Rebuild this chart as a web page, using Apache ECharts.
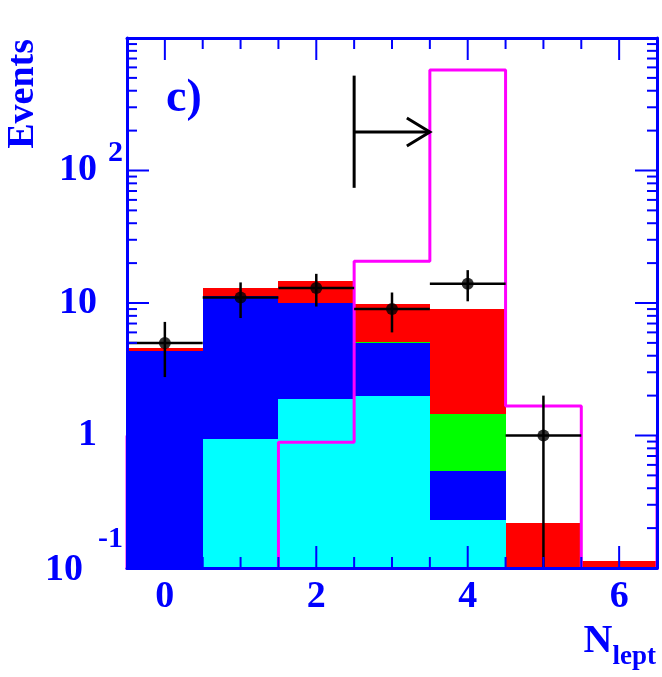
<!DOCTYPE html>
<html><head><meta charset="utf-8">
<script src="https://cdn.jsdelivr.net/npm/echarts@6/dist/echarts.min.js"></script>
<style>html,body{margin:0;padding:0;background:#fff}#c{width:662px;height:677px}</style>
</head><body><div id="c"></div>
<script>
// ---- data ----
const binCenters = [0, 1, 2, 3, 4, 5, 6];
const cyanVals   = [0, 0.94, 1.9, 2.0, 0.23, 0, 0];
const blueVals   = [4.37, 10.26, 8.15, 3.0, 0.31, 0, 0];
const greenVals  = [0, 0.15, 0, 0.1, 0.92, 0, 0];
const redVals    = [0.18, 1.72, 4.65, 4.67, 7.6, 0.22, 0.113];
const signalVals = [0, 0, 0.89, 20.7, 574, 1.67, 0];
const signalEdgeBase = 1;
const dataVals    = [5, 11, 13, 9, 14, 1, 0];
const dataErrHigh = [7.2, 14.3, 16.6, 12, 17.7, 2, 0];
const dataErrLow  = [2.76, 7.7, 9.4, 6, 10.3, 0, 0];
const arrowX = [2.5, 3.5];
const arrowY = [74, 195, 520];
const xTicks = [0, 0.5, 1, 1.5, 2, 2.5, 3, 3.5, 4, 4.5, 5, 5.5, 6];
const xMajorTicks = [0, 2, 4, 6];
const xTickLabels = ['0', '2', '4', '6'];
const yMajorTicks = [1, 10, 100];
const yMinorTicks = [0.2,0.3,0.4,0.5,0.6,0.7,0.8,0.9, 2,3,4,5,6,7,8,9, 20,30,40,50,60,70,80,90, 200,300,400,500,600,700,800,900];
const yLabelValues = [0.1, 1, 10, 100];
const yLabelBase = ['10', '1', '10', '10'];
const yLabelExp  = ['-1', '', '', '2'];

// ---- setup ----
const Y_MIN = 0.1, Y_MAX = 1000, X_MIN = -0.5, X_MAX = 6.5;
const BLUE = '#0000ff';
const FONT = '"Liberation Serif", "Times New Roman", serif';

const chart = echarts.init(document.getElementById('c'), null, {renderer: 'canvas'});

function layerSeries() {
  const comps = [cyanVals, blueVals, greenVals, redVals];
  const colors = ['#00ffff', '#0000ff', '#00ff00', '#ff0000'];
  const names = ['cyan', 'blue', 'green', 'red'];
  const base = binCenters.map(() => 0);
  return comps.map((vals, k) => {
    const data = [];
    vals.forEach((v, i) => {
      const lo = base[i], hi = base[i] + v;
      base[i] = hi;
      if (v > 0 && hi > Y_MIN) data.push([binCenters[i], Math.max(lo, Y_MIN), hi]);
    });
    return {
      type: 'custom', name: names[k], coordinateSystem: 'cartesian2d', clip: true, z: 2,
      encode: {x: 0, y: [1, 2]}, data: data, silent: true,
      renderItem: function (params, api) {
        const x = api.value(0), lo = api.value(1), hi = api.value(2);
        const p1 = api.coord([x - 0.5, hi]);
        const p2 = api.coord([x + 0.5, lo]);
        const x0 = Math.round(p1[0]), x1 = Math.round(p2[0]);
        const y0 = Math.round(p1[1]), y1 = Math.round(p2[1]);
        return {type: 'rect', shape: {x: x0, y: y0, width: x1 - x0, height: y1 - y0},
                style: {fill: colors[k], stroke: null}};
      }
    };
  });
}

function signalPoints() {
  // empty bins are placed below the axis minimum so the clip hides them
  const pts = [[X_MIN, signalEdgeBase]];
  signalVals.forEach((v, i) => {
    const c = v > Y_MIN ? v : Y_MIN / 3;
    pts.push([binCenters[i] - 0.5, c]);
    pts.push([binCenters[i] + 0.5, c]);
  });
  pts.push([X_MAX, signalEdgeBase]);
  return pts;
}

const dataPoints = [];
const errData = [];
dataVals.forEach((v, i) => {
  if (v > 0) {
    dataPoints.push([binCenters[i], v]);
    errData.push([binCenters[i], v, Math.max(dataErrLow[i], Y_MIN), dataErrHigh[i]]);
  }
});

function yLabel(v) {
  for (let i = 0; i < yLabelValues.length; i++) {
    if (Math.abs(Math.log10(v) - Math.log10(yLabelValues[i])) < 1e-6) {
      if (yLabelExp[i] === '') return '{np|' + yLabelBase[i] + '}';
      if (yLabelExp[i] === '-1') return '{n0|' + yLabelBase[i] + '}{sm|' + yLabelExp[i] + '}';
      return '{n|' + yLabelBase[i] + '}{s2|' + yLabelExp[i] + '}';
    }
  }
  return '';
}
function xLabel(v) {
  const i = xMajorTicks.indexOf(Math.round(v * 1000) / 1000);
  return i >= 0 ? xTickLabels[i] : '';
}
const tf = {fontFamily: FONT, fontWeight: 'bold', color: BLUE};

const xTickData = xTicks.map(v => [v, Y_MIN, xMajorTicks.indexOf(v) >= 0 ? 1 : 0]);
const yTickData = yMajorTicks.map(v => [X_MIN, v, 1]).concat(yMinorTicks.map(v => [X_MIN, v, 0]));

const option = {
  animation: false,
  backgroundColor: '#ffffff',
  grid: {left: 127, top: 38, width: 530, height: 530, containLabel: false},
  xAxis: [
    {type: 'value', min: X_MIN, max: X_MAX, interval: 0.5, position: 'bottom', z: 10,
     axisLine: {show: true, onZero: false, lineStyle: {color: BLUE, width: 3}},
     axisTick: {show: false}, splitLine: {show: false},
     axisLabel: {show: true, margin: 10, fontSize: 38, lineHeight: 38, fontFamily: FONT, fontWeight: 'bold', color: BLUE,
                 formatter: xLabel, showMinLabel: true, showMaxLabel: true}},
    {type: 'value', min: X_MIN, max: X_MAX, interval: 0.5, position: 'top', z: 10,
     axisLine: {show: true, onZero: false, lineStyle: {color: BLUE, width: 3}},
     axisTick: {show: false}, splitLine: {show: false}, axisLabel: {show: false}}
  ],
  yAxis: [
    {type: 'log', logBase: 10, min: Y_MIN, max: Y_MAX, position: 'left', z: 10,
     axisLine: {show: true, onZero: false, lineStyle: {color: BLUE, width: 3}},
     axisTick: {show: false}, splitLine: {show: false}, minorTick: {show: false},
     axisLabel: {show: true, margin: 4, formatter: yLabel, showMinLabel: true, showMaxLabel: true,
       rich: {
         n:  Object.assign({fontSize: 38, lineHeight: 38}, tf),
         np: Object.assign({fontSize: 38, lineHeight: 38, padding: [0, 26, 0, 0]}, tf),
         n0: Object.assign({fontSize: 38, lineHeight: 38, padding: [4, 0, 0, 0]}, tf),
         s2: Object.assign({fontSize: 30, lineHeight: 30, padding: [0, 0, 35, 11]}, tf),
         sm: Object.assign({fontSize: 30, lineHeight: 30, padding: [0, 0, 57, 15]}, tf)
       }}},
    {type: 'log', logBase: 10, min: Y_MIN, max: Y_MAX, position: 'right', z: 10,
     axisLine: {show: true, onZero: false, lineStyle: {color: BLUE, width: 3}},
     axisTick: {show: false}, splitLine: {show: false}, axisLabel: {show: false}}
  ],
  series: layerSeries().concat([
    {type: 'line', name: 'signal', data: signalPoints(), showSymbol: false, symbol: 'none', z: 3,
     lineStyle: {color: '#ff00ff', width: 3}, clip: true, silent: true},
    {type: 'custom', name: 'errors', coordinateSystem: 'cartesian2d', z: 5, clip: true, silent: true,
     encode: {x: 0, y: 1}, data: errData,
     renderItem: function (params, api) {
       const x = api.value(0), v = api.value(1), lo = api.value(2), hi = api.value(3);
       const a = api.coord([x - 0.5, v]), b = api.coord([x + 0.5, v]);
       const c = api.coord([x, lo]), d = api.coord([x, hi]);
       const st = {stroke: '#000', lineWidth: 2.5};
       return {type: 'group', children: [
         {type: 'line', shape: {x1: a[0], y1: a[1], x2: b[0], y2: b[1]}, style: st},
         {type: 'line', shape: {x1: c[0], y1: c[1], x2: d[0], y2: d[1]}, style: st}
       ]};
     }},
    {type: 'scatter', name: 'data', data: dataPoints, symbol: 'circle', symbolSize: 12, z: 6,
     itemStyle: {color: '#000'}, silent: true},
    {type: 'custom', name: 'cut', coordinateSystem: 'cartesian2d', z: 6, clip: false, silent: true,
     encode: {x: 0, y: 1}, data: [[arrowX[0], arrowY[1]]],
     renderItem: function (params, api) {
       const v1 = api.coord([arrowX[0], arrowY[0]]), v2 = api.coord([arrowX[0], arrowY[2]]);
       const h1 = api.coord([arrowX[0], arrowY[1]]), h2 = api.coord([arrowX[1], arrowY[1]]);
       const st = {stroke: '#000', lineWidth: 3, fill: null};
       return {type: 'group', children: [
         {type: 'line', shape: {x1: v1[0], y1: v1[1], x2: v2[0], y2: v2[1]}, style: st},
         {type: 'line', shape: {x1: h1[0], y1: h1[1], x2: h2[0], y2: h2[1]}, style: st},
         {type: 'polyline', shape: {points: [[h2[0] - 23, h2[1] - 14], [h2[0], h2[1]], [h2[0] - 23, h2[1] + 14]]}, style: st}
       ]};
     }},
    {type: 'custom', name: 'xticks', coordinateSystem: 'cartesian2d', z: 11, clip: false, silent: true,
     encode: {x: 0, y: 1}, data: xTickData,
     renderItem: function (params, api) {
       const px = api.coord([api.value(0), Y_MIN])[0];
       const cs = params.coordSys;
       const len = api.value(2) ? 22 : 11;
       const st = {stroke: BLUE, lineWidth: 2};
       const yb = cs.y + cs.height, yt = cs.y;
       return {type: 'group', children: [
         {type: 'line', shape: {x1: px, y1: yb, x2: px, y2: yb - len}, style: st},
         {type: 'line', shape: {x1: px, y1: yt, x2: px, y2: yt + len}, style: st}
       ]};
     }},
    {type: 'custom', name: 'yticks', coordinateSystem: 'cartesian2d', z: 11, clip: false, silent: true,
     encode: {x: 0, y: 1}, data: yTickData,
     renderItem: function (params, api) {
       const py = api.coord([X_MIN, api.value(1)])[1];
       const cs = params.coordSys;
       const len = api.value(2) ? 22 : 10;
       const st = {stroke: BLUE, lineWidth: 2};
       const xl = cs.x, xr = cs.x + cs.width;
       return {type: 'group', children: [
         {type: 'line', shape: {x1: xl, y1: py, x2: xl + len, y2: py}, style: st},
         {type: 'line', shape: {x1: xr, y1: py, x2: xr - len, y2: py}, style: st}
       ]};
     }}
  ]),
  graphic: [
    {type: 'text', x: 23, y: 39, rotation: Math.PI / 2, z: 20,
     style: {text: 'Events', font: 'bold 38px ' + FONT, fill: BLUE, align: 'right', textAlign: 'right',
             verticalAlign: 'middle', textVerticalAlign: 'middle'}},
    {type: 'text', x: 166, y: 99.5, z: 20,
     style: {text: 'c)', font: 'bold 46px ' + FONT, fill: BLUE, align: 'left', textAlign: 'left',
             verticalAlign: 'middle', textVerticalAlign: 'middle'}},
    {type: 'text', x: 656, y: 641.5, z: 20,
     style: {text: '{N|N}{s|lept}', align: 'right', textAlign: 'right', verticalAlign: 'middle', textVerticalAlign: 'middle',
             fill: BLUE, font: 'bold 40px ' + FONT,
             rich: {
               N: {fontSize: 40, lineHeight: 40, fontFamily: FONT, fontWeight: 'bold', fill: BLUE, color: BLUE},
               s: {fontSize: 27, lineHeight: 27, padding: [31, 0, 0, 0], fontFamily: FONT, fontWeight: 'bold', fill: BLUE, color: BLUE}
             }}}
  ]
};
chart.setOption(option);
</script>
</body></html>
